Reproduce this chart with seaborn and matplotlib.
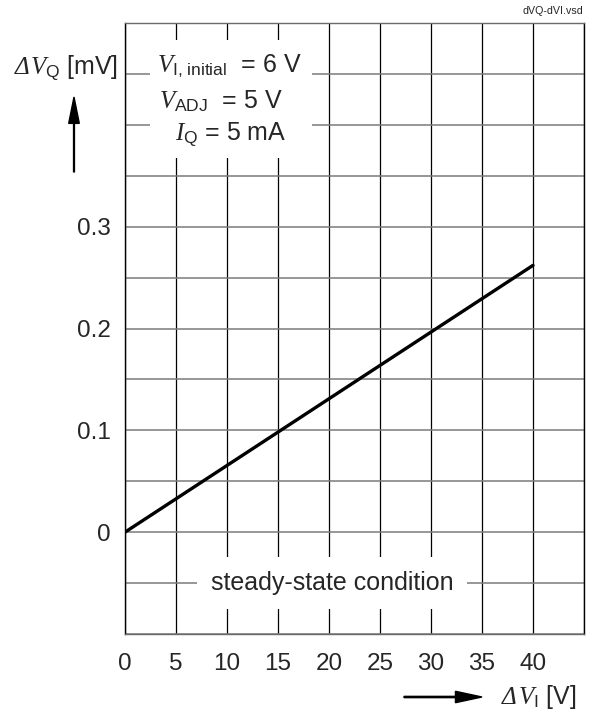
"""Load regulation: output voltage change vs input voltage step."""
import matplotlib.pyplot as plt
from matplotlib.patches import Rectangle, FancyArrow
import numpy as np
import pandas as pd
import seaborn as sns

# data
dv_in = [0, 40]          # ΔV_I [V]
dv_out = [0.0, 0.262]    # ΔV_Q [mV]
x_ticks = list(range(0, 46, 5))
x_labels = [str(v) for v in range(0, 41, 5)] + [""]
y_ticks = np.round(np.arange(-0.1, 0.501, 0.05), 2)
y_labels = {0.0: "0", 0.1: "0.1", 0.2: "0.2", 0.3: "0.3"}

sns.set_style("white")
plt.rcParams["font.family"] = ["Liberation Sans", "DejaVu Sans"]
plt.rcParams["mathtext.fontset"] = "custom"
plt.rcParams["mathtext.rm"] = "Liberation Sans"
plt.rcParams["mathtext.sf"] = "Liberation Sans"
plt.rcParams["mathtext.it"] = "Liberation Serif:italic"

df = pd.DataFrame({"dVI": dv_in, "dVQ": dv_out})

fig = plt.figure(figsize=(5.9, 7.13), dpi=100)
ax = fig.add_axes([125 / 590, 1 - 634 / 713, 459 / 590, 611 / 713])

sns.lineplot(data=df, x="dVI", y="dVQ", ax=ax, color="black",
             linewidth=2.4, zorder=5)

ax.set_xlim(0, 45)
ax.set_ylim(-0.1, 0.5)
ax.set_xticks(x_ticks)
ax.set_xticklabels(x_labels)
ax.set_yticks(y_ticks)
ax.set_yticklabels([y_labels.get(float(v), "") for v in y_ticks])
ax.tick_params(axis="x", length=0, labelsize=17.5, pad=14)
ax.tick_params(axis="y", length=0, labelsize=17.5, pad=10)
ax.set_xlabel("")
ax.set_ylabel("")

ax.xaxis.grid(True, color="black", linewidth=0.9)
ax.yaxis.grid(True, color="#7a7a7a", linewidth=1.1)
ax.set_axisbelow(True)
for side in ["left", "right"]:
    ax.spines[side].set_color("black")
for side in ["top", "bottom"]:
    ax.spines[side].set_color("#6a6a6a")
for s in ax.spines.values():
    s.set_linewidth(1.0)

# white box behind the condition text
ax.add_patch(Rectangle((0.0545, 0.779), 0.353, 0.193, transform=ax.transAxes,
                       facecolor="white", edgecolor="none", zorder=3))
cx = 229 / 590
fig.text(cx, 1 - 66 / 713, r"$\mathit{V}_{\mathrm{I,\,initial}}$  = 6 V",
         ha="center", va="center", fontsize=18, zorder=6)
fig.text(cx - 8 / 590, 1 - 101 / 713, r"$\mathit{V}_{\mathrm{ADJ}}$  = 5 V",
         ha="center", va="center", fontsize=18, zorder=6)
fig.text(cx + 2 / 590, 1 - 135 / 713, r"$\mathit{I}_{\mathrm{Q}}$ = 5 mA",
         ha="center", va="center", fontsize=18, zorder=6)

ax.text(20.3, -0.05, "steady-state condition", ha="center", va="center",
        fontsize=18, zorder=6,
        bbox=dict(boxstyle="square,pad=0.55", facecolor="white", edgecolor="none"))


def delta_label(x_right, y, body):
    """Label right-aligned at x_right, preceded by an italic serif Δ."""
    t = fig.text(x_right, y, body, ha="right", va="baseline", fontsize=18)
    fig.canvas.draw()
    bb = t.get_window_extent().transformed(fig.transFigure.inverted())
    fig.text(bb.x0 - 1 / 590, y, "Δ", ha="right", va="baseline", fontsize=18,
             family="Liberation Serif", style="italic")


# axis labels with arrows
delta_label(118 / 590, 1 - 74 / 713, r"$\mathit{V}_{\mathrm{Q}}$ [mV]")
fig.patches.append(FancyArrow(
    74 / 590, 1 - 172 / 713, 0, 75 / 713, width=0.0015, head_width=0.018,
    head_length=0.037, length_includes_head=True, color="black",
    transform=fig.transFigure, figure=fig))

delta_label(576 / 590, 1 - 704 / 713, r"$\mathit{V}_{\mathrm{I}}$ [V]")
fig.patches.append(FancyArrow(
    404 / 590, 1 - 697 / 713, 78 / 590, 0, width=0.0018, head_width=0.016,
    head_length=0.045, length_includes_head=True, color="black",
    transform=fig.transFigure, figure=fig))

fig.text(583 / 590, 1 - 11 / 713, "dVQ-dVI.vsd", ha="right", va="center",
         fontsize=7.7)

fig.savefig("out.png", dpi=100)
